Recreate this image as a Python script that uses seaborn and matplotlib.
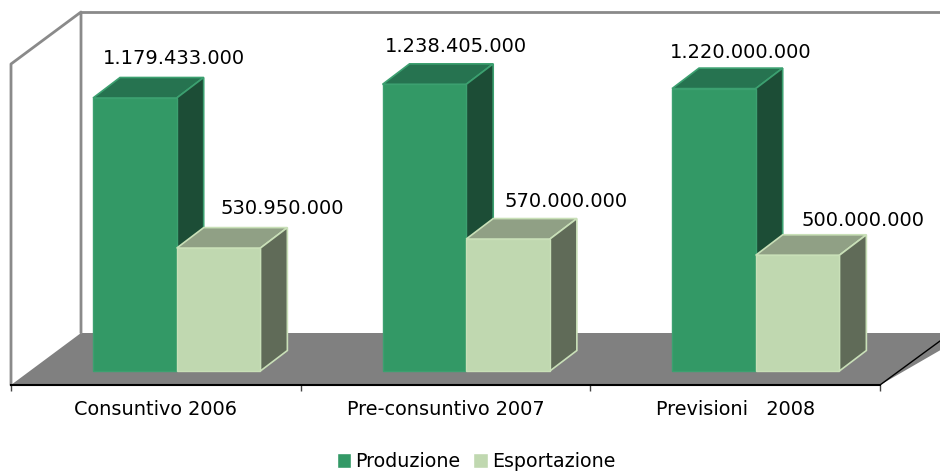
import matplotlib
matplotlib.use('Agg')
import matplotlib.pyplot as plt
from matplotlib.patches import Polygon
from matplotlib.transforms import Affine2D
import pandas as pd
import seaborn as sns

categories = ['Consuntivo 2006', 'Pre-consuntivo 2007', 'Previsioni   2008']
produzione = [1179433000, 1238405000, 1220000000]
esportazione = [530950000, 570000000, 500000000]
value_labels = [['1.179.433.000', '1.238.405.000', '1.220.000.000'],
                ['530.950.000', '570.000.000', '500.000.000']]

# layout, in reference pixels
W, H = 940, 471
BASE_Y = 371
FIRST_X = 176.7
STEP_X = 289.5
PX_PER_UNIT = 273 / 1179433000
DEPTH_X, DEPTH_Y = 27, 20.5

# face, edge, top, side for each series
styles = [('#339966', '#3ca070', '#267350', '#1c4d36'),
          ('#c0d8b0', '#c9e0b8', '#90a085', '#606b58')]
# label offset from the top of the front face
label_offsets = [[(39, 39), (31.5, 38), (26.5, 36)],
                 [(63.5, 40), (58, 38), (65, 35)]]

sns.set_theme(style='white')
plt.rcParams['font.family'] = ['DejaVu Sans']
plt.rcParams['text.color'] = 'black'

df = pd.DataFrame({
    'categoria': categories * 2,
    'valore': produzione + esportazione,
    'serie': ['Produzione'] * 3 + ['Esportazione'] * 3,
})

fig = plt.figure(figsize=(W / 100, H / 100), dpi=100)
ax = fig.add_axes([0, 0, 1, 1])
sns.barplot(data=df, x='categoria', y='valore', hue='serie', ax=ax, width=0.578, gap=0,
            palette=[styles[0][0], styles[1][0]], saturation=1)
ax.set_xlim(-FIRST_X / STEP_X, (W - FIRST_X) / STEP_X)
ax.set_ylim(-(H - BASE_Y) / PX_PER_UNIT, BASE_Y / PX_PER_UNIT)
ax.axis('off')

# walls and floor are drawn in pixels, y going down
px = Affine2D().scale(1, -1).translate(0, H)
ax.add_patch(Polygon([(11, 385), (81, 333), (970, 333), (880, 385)], closed=True, fc='#808080',
                     ec='none', transform=px, zorder=1))
ax.plot([11, 11, 81, 81], [385, 64, 12, 333], color='#8a8a8a', lw=2, transform=px, zorder=1.5)
ax.plot([81, 940], [12, 12], color='#8a8a8a', lw=2, transform=px, zorder=1.5)
ax.plot([880, 940], [385, 341], color='black', lw=1, transform=px, zorder=1.5)

# top and side faces of each bar
dx = DEPTH_X / STEP_X
dy = DEPTH_Y / PX_PER_UNIT
for s, container in enumerate(ax.containers):
    face, edge, top, side = styles[s]
    for i, bar in enumerate(container):
        x0, x1 = bar.get_x(), bar.get_x() + bar.get_width()
        y1 = bar.get_height()
        z = 3 + 2 * s
        bar.set_edgecolor(edge)
        bar.set_linewidth(1)
        bar.set_zorder(z + 1)
        ax.add_patch(Polygon([(x0, y1), (x1, y1), (x1 + dx, y1 + dy), (x0 + dx, y1 + dy)],
                             closed=True, fc=top, ec=edge, lw=1.2, zorder=z))
        ax.add_patch(Polygon([(x1, 0), (x1 + dx, dy), (x1 + dx, y1 + dy), (x1, y1)],
                             closed=True, fc=side, ec=edge, lw=1.2, zorder=z))
        ax.annotate(value_labels[s][i], xy=(bar.get_x() + bar.get_width() / 2, y1),
                    xytext=label_offsets[s][i], textcoords='offset pixels',
                    ha='center', va='center', fontsize=14, color='black', zorder=10)

sns.move_legend(ax, 'center', bbox_to_anchor=(476 / W, 1 - 461.5 / H), ncol=2, frameon=False,
                title=None, fontsize=13.7, handlelength=0.78, handleheight=0.78,
                handletextpad=0.22, columnspacing=0.65, borderpad=0, borderaxespad=0)

# category axis along the front of the floor
ax_cat = fig.add_axes([11 / W, 1 - 385 / H, 869 / W, 0.0005])
ax_cat.patch.set_alpha(0)
ax_cat.set_xlim(0, 3)
ax_cat.set_yticks([])
for name in ['top', 'left', 'right']:
    ax_cat.spines[name].set_visible(False)
ax_cat.spines['bottom'].set_color('black')
ax_cat.spines['bottom'].set_linewidth(1.5)
ax_cat.set_xticks(range(4))
ax_cat.set_xticklabels([])
ax_cat.tick_params(axis='x', which='major', bottom=True, length=4.5, width=1, color='#444444')
ax_cat.set_xticks([0.5, 1.5, 2.5], minor=True)
ax_cat.set_xticklabels(categories, minor=True, fontsize=13.9, color='black')
ax_cat.tick_params(axis='x', which='minor', bottom=False, length=0, pad=11)

fig.savefig('out.png', dpi=100)
